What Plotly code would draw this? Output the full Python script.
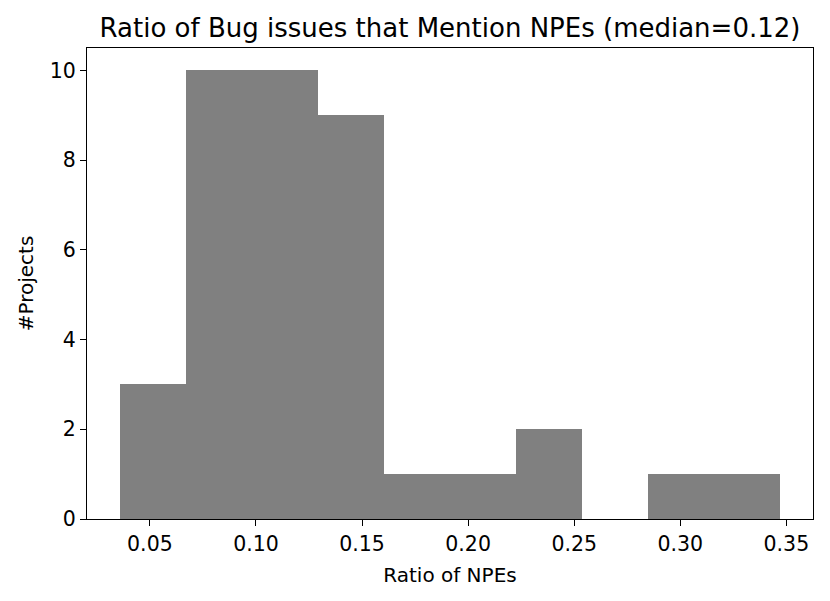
import plotly.graph_objects as go

# Histogram data
bin_start = 0.0359
bin_width = 0.03111
counts = [3, 10, 10, 9, 1, 1, 2, 0, 1, 1]
x_ticks = [0.05, 0.10, 0.15, 0.20, 0.25, 0.30, 0.35]
y_ticks = [0, 2, 4, 6, 8, 10]

centers = [bin_start + bin_width * (i + 0.5) for i in range(len(counts))]
widths = [bin_width] * len(counts)

fig = go.Figure(go.Bar(
    x=centers, y=counts, width=widths,
    marker=dict(color="#808080", line=dict(width=0)),
    hoverinfo="x+y",
))

font = "DejaVu Sans, Arial, sans-serif"
lo = bin_start
hi = bin_start + bin_width * len(counts)
pad = (hi - lo) * 0.05

fig.update_layout(
    width=830, height=601,
    margin=dict(l=87, r=17, t=48, b=82),
    plot_bgcolor="white", paper_bgcolor="white",
    font=dict(family=font, size=20, color="black"),
    showlegend=False,
    bargap=0,
    title=dict(text="Ratio of Bug issues that Mention NPEs (median=0.12)",
               xref="paper", x=0.5, xanchor="center",
               yref="container", y=1 - 28 / 601, yanchor="middle",
               font=dict(size=26, family=font, color="black")),
    xaxis=dict(range=[lo - pad, hi + pad], tickvals=x_ticks,
               ticktext=[f"{v:.2f}" for v in x_ticks],
               tickfont=dict(size=20.5),
               ticks="outside", ticklen=6, tickwidth=1.3, tickcolor="black",
               showline=True, linecolor="black", linewidth=1.3, mirror=True,
               showgrid=False, zeroline=False, automargin=False,
               title=dict(text="Ratio of NPEs", font=dict(size=20), standoff=13)),
    yaxis=dict(range=[0, 10.5], tickvals=y_ticks,
               tickfont=dict(size=20.5),
               ticks="outside", ticklen=6, tickwidth=1.3, tickcolor="black",
               showline=True, linecolor="black", linewidth=1.3, mirror=True,
               showgrid=False, zeroline=False, automargin=False,
               title=dict(text="#Projects", font=dict(size=20), standoff=10)),
)

fig.write_html("out.html", config={"displayModeBar": False},
               post_script="document.body.style.margin='0';")
